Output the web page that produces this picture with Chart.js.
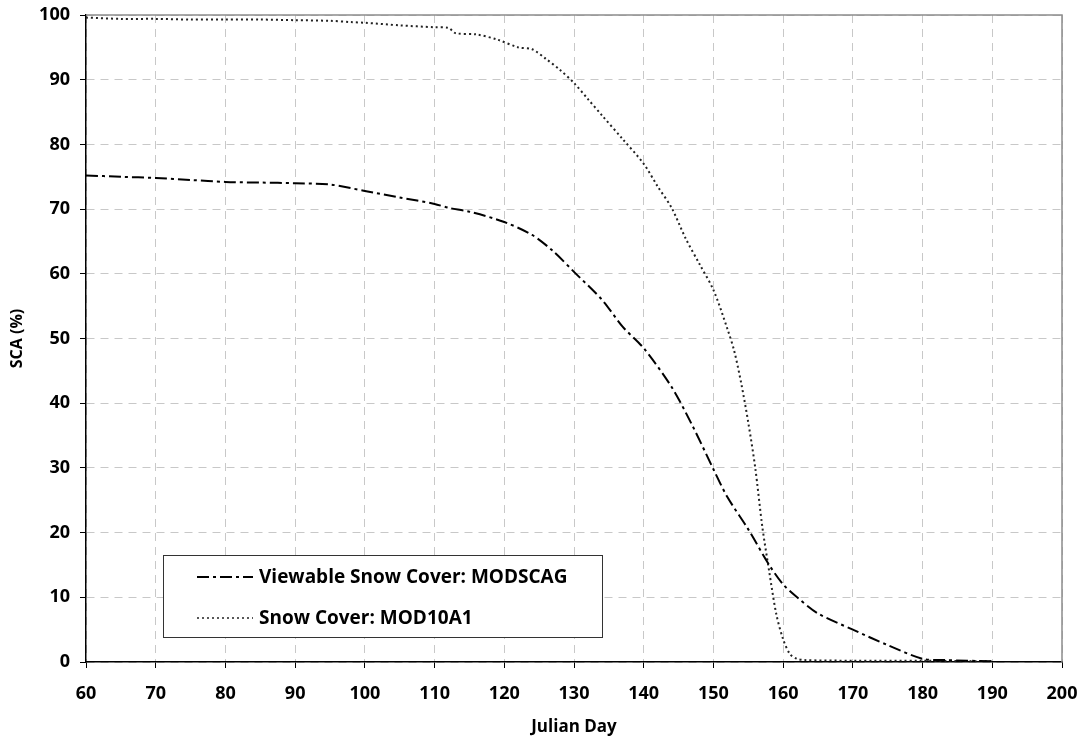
<!DOCTYPE html>
<html lang="en">
<head>
  <meta charset="UTF-8" />
  <title>SCA vs Julian Day</title>
  <script src="https://cdn.jsdelivr.net/npm/chart.js"></script>
  <style>
    html, body { margin: 0; padding: 0; background: #fff; }
    #wrap { width: 1086px; height: 751px; }
  </style>
</head>
<body>
  <div id="wrap"><canvas id="scaChart" width="1086" height="751"></canvas></div>
  <script>
    // values
    const modscagDays = [60, 65, 70, 75, 80, 85, 90, 95, 100, 105, 110, 112, 115, 120, 124, 127, 130, 134, 137, 140, 144, 147, 150, 152, 155, 158, 160, 162, 165, 170, 175, 180, 183, 190];
    const modscagSca  = [75.2, 75.0, 74.8, 74.5, 74.2, 74.1, 74.0, 73.8, 72.8, 71.8, 70.8, 70.2, 69.6, 68.0, 66.0, 63.5, 60.3, 56.0, 51.8, 48.5, 42.5, 36.5, 29.8, 25.5, 20.5, 15.0, 12.0, 10.0, 7.5, 5.0, 2.6, 0.5, 0.3, 0.1];

    const mod10Days = [60, 65, 70, 75, 80, 85, 90, 95, 98, 100, 105, 110, 112, 113, 116, 119, 122, 124, 126, 128, 130, 132, 134, 137, 140, 142, 144, 146, 148, 150, 152, 153, 154, 155, 156, 157, 158, 159, 160, 161, 162, 163, 170, 180, 190];
    const mod10Sca  = [99.6, 99.4, 99.4, 99.3, 99.3, 99.3, 99.2, 99.1, 98.9, 98.8, 98.4, 98.1, 98.0, 97.2, 97.0, 96.2, 95.0, 94.7, 93.2, 91.5, 89.5, 87.0, 84.5, 80.8, 77.0, 73.5, 70.2, 65.5, 61.5, 57.5, 51.5, 48.0, 43.0, 37.0, 30.0, 21.0, 14.0, 7.5, 3.5, 1.2, 0.5, 0.3, 0.2, 0.2, 0.1];

    const xTicks = [60, 70, 80, 90, 100, 110, 120, 130, 140, 150, 160, 170, 180, 190, 200];
    const yTicks = [0, 10, 20, 30, 40, 50, 60, 70, 80, 90, 100];

    const toPoints = (xs, ys) => xs.map((x, i) => ({ x: x, y: ys[i] }));

    const FONT = "'Open Sans', 'Liberation Sans', sans-serif";

    // frame on top/right + boxed legend in lower-left
    const framePlugin = {
      id: 'frame',
      afterDraw(chart) {
        const { ctx, chartArea: a } = chart;
        ctx.save();
        ctx.strokeStyle = '#8c8c8c';
        ctx.lineWidth = 1.5;
        ctx.setLineDash([]);
        ctx.beginPath();
        ctx.moveTo(a.left, a.top);
        ctx.lineTo(a.right, a.top);
        ctx.lineTo(a.right, a.bottom);
        ctx.stroke();

        // legend box
        const bx = 163, by = 555, bw = 439, bh = 82;
        ctx.fillStyle = '#fff';
        ctx.fillRect(bx, by, bw, bh);
        ctx.strokeStyle = '#333';
        ctx.lineWidth = 1;
        ctx.strokeRect(bx + 0.5, by + 0.5, bw, bh);

        ctx.font = 'bold 19px ' + FONT;
        ctx.textBaseline = 'middle';
        chart.data.datasets.forEach((ds, i) => {
          const ly = by + 22 + i * 41;
          ctx.strokeStyle = ds.borderColor;
          ctx.lineWidth = i === 0 ? 2 : 1.5;
          ctx.setLineDash(ds.borderDash);
          ctx.beginPath();
          ctx.moveTo(bx + 34, ly);
          ctx.lineTo(bx + 90, ly);
          ctx.stroke();
          ctx.setLineDash([]);
          ctx.fillStyle = '#000';
          ctx.fillText(ds.label, bx + 96, ly + 1);
        });
        ctx.restore();
      }
    };

    new Chart(document.getElementById('scaChart'), {
      type: 'line',
      data: {
        datasets: [
          {
            label: 'Viewable Snow Cover: MODSCAG',
            data: toPoints(modscagDays, modscagSca),
            borderColor: '#000',
            borderWidth: 2,
            borderDash: [12, 4, 3, 4],
            pointRadius: 0,
            tension: 0.3,
            fill: false
          },
          {
            label: 'Snow Cover: MOD10A1',
            data: toPoints(mod10Days, mod10Sca),
            borderColor: '#222',
            borderWidth: 2,
            borderDash: [2, 3],
            pointRadius: 0,
            tension: 0.3,
            fill: false
          }
        ]
      },
      options: {
        responsive: false,
        animation: false,
        layout: { padding: { top: 15, right: 24, bottom: 0, left: 0 } },
        plugins: {
          legend: { display: false },
          tooltip: { enabled: false }
        },
        scales: {
          x: {
            type: 'linear',
            min: 60,
            max: 200,
            afterBuildTicks: (axis) => { axis.ticks = xTicks.map(v => ({ value: v })); },
            afterFit: (axis) => {
              axis.height = 89;
              axis.paddingLeft = 0;
              axis.paddingRight = 0;
            },
            ticks: {
              color: '#000',
              font: { family: FONT, size: 18, weight: 'bold' },
              padding: 15,
              maxRotation: 0
            },
            grid: {
              color: '#c8c8c8',
              lineWidth: 1,
              tickLength: 6,
              tickColor: '#000',
              tickBorderDash: []
            },
            border: { color: '#000', width: 1.5, dash: [8, 6] },
            title: {
              display: true,
              text: 'Julian Day',
              color: '#000',
              font: { family: FONT, size: 17, weight: 'bold' },
              padding: { top: 0, bottom: 14 }
            }
          },
          y: {
            min: 0,
            max: 100,
            afterBuildTicks: (axis) => { axis.ticks = yTicks.map(v => ({ value: v })); },
            afterFit: (axis) => {
              axis.width = 86;
              axis.paddingTop = 0;
              axis.paddingBottom = 0;
            },
            ticks: {
              color: '#000',
              font: { family: FONT, size: 18, weight: 'bold' },
              padding: 10
            },
            grid: {
              color: '#c8c8c8',
              lineWidth: 1,
              tickLength: 6,
              tickColor: '#000',
              tickBorderDash: []
            },
            border: { color: '#000', width: 1.5, dash: [8, 6] },
            title: {
              display: true,
              text: 'SCA (%)',
              color: '#000',
              font: { family: FONT, size: 16, weight: 'bold' },
              padding: { top: 8, bottom: 0 }
            }
          }
        }
      },
      plugins: [framePlugin]
    });
  </script>
</body>
</html>
